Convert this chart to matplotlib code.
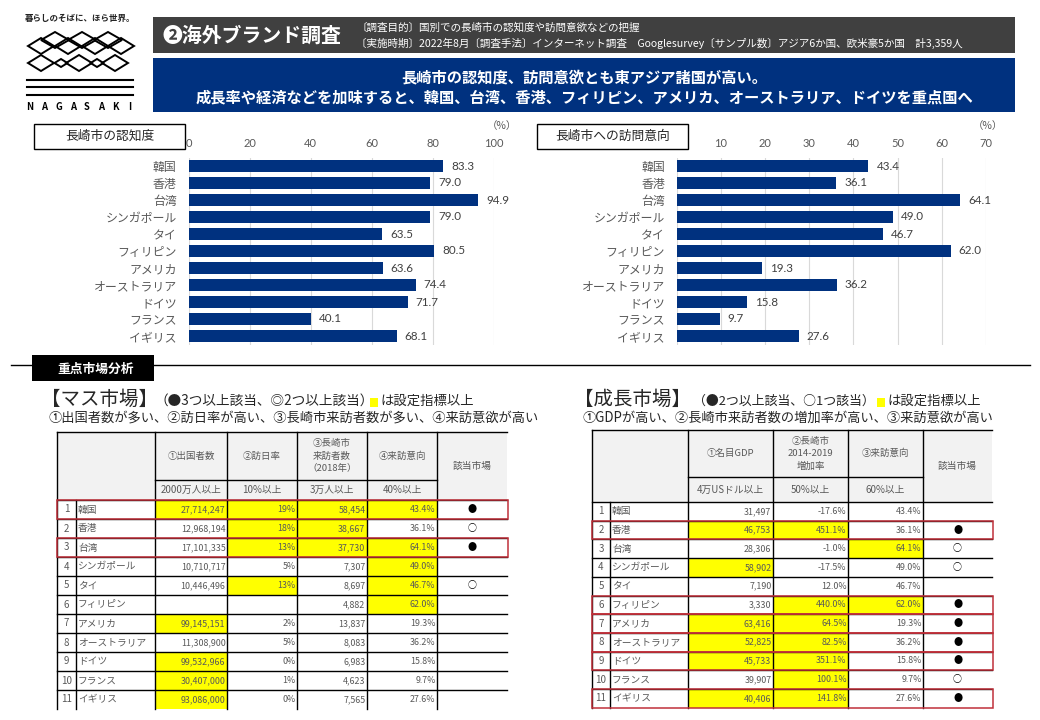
import matplotlib
matplotlib.use("Agg")
import matplotlib.pyplot as plt
from matplotlib.patches import Rectangle, Polygon

plt.rcParams['font.family'] = ['Noto Sans CJK JP', 'DejaVu Sans']

# bar chart data
countries = ["韓国", "香港", "台湾", "シンガポール", "タイ", "フィリピン", "アメリカ", "オーストラリア", "ドイツ", "フランス", "イギリス"]
awareness = [83.3, 79.0, 94.9, 79.0, 63.5, 80.5, 63.6, 74.4, 71.7, 40.1, 68.1]
visit_intent = [43.4, 36.1, 64.1, 49.0, 46.7, 62.0, 19.3, 36.2, 15.8, 9.7, 27.6]
awareness_ticks = [0, 20, 40, 60, 80, 100]
intent_ticks = [0, 10, 20, 30, 40, 50, 60, 70]

# mass market table
departures = [27714247, 12968194, 17101335, 10710717, 10446496, None, 99145151, 11308900, 99532966, 30407000, 93086000]
japan_rate = [19, 18, 13, 5, 13, None, 2, 5, 0, 1, 0]
nagasaki_visitors = [58454, 38667, 37730, 7307, 8697, 4882, 13837, 8083, 6983, 4623, 7565]
mass_marks = ["●", "○", "●", "", "○", "", "", "", "", "", ""]
mass_headers = ["①出国者数", "②訪日率", "③長崎市\n来訪者数\n（2018年）", "④来訪意向"]
mass_subheaders = ["2000万人以上", "10%以上", "3万人以上", "40%以上"]
mass_limits = [20000000, 10, 30000, 40]
mass_boxed = [0, 2]

# growth market table
gdp = [31497, 46753, 28306, 58902, 7190, 3330, 63416, 52825, 45733, 39907, 40406]
growth = [-17.6, 451.1, -1.0, -17.5, 12.0, 440.0, 64.5, 82.5, 351.1, 100.1, 141.8]
growth_marks = ["", "●", "○", "○", "", "●", "●", "●", "●", "○", "●"]
growth_headers = ["①名目GDP", "②長崎市\n2014-2019\n増加率", "③来訪意向"]
growth_subheaders = ["4万USドル以上", "50%以上", "60%以上"]
growth_limits = [40000, 50, 60]
growth_boxed = [1, 5, 6, 7, 8, 10]

NAVY = "#00317f"
GREY_TEXT = "#595959"
W, H = 1040, 720


def barChart(fig, left, right, xmax, values, ticks):
    ax = fig.add_axes([left / W, 1 - 344.5 / H, (right - left) / W, 187 / H])
    pos = list(range(len(countries)))
    ax.barh(pos, values, height=0.7, color=NAVY, zorder=3)
    ax.set_xlim(0, xmax)
    ax.set_ylim(len(countries) - 0.5, -0.5)
    ax.set_yticks(pos, countries, fontsize=8.6, color=GREY_TEXT)
    ax.set_xticks(ticks, [str(t) for t in ticks], fontsize=8, color=GREY_TEXT, family=['Lato'])
    ax.xaxis.tick_top()
    ax.tick_params(axis='both', length=0)
    ax.tick_params(axis='y', pad=8.5)
    ax.tick_params(axis='x', pad=6)
    ax.grid(axis='x', color="#d9d9d9", lw=0.8, zorder=0)
    for side in ax.spines:
        ax.spines[side].set_visible(False)
    for p, v in zip(pos, values):
        ax.annotate(f"{v:.1f}", (v, p), xytext=(5.8, 0), textcoords='offset points', va='center',
                    fontsize=8.4, color="#404040", family=['Lato'])


def diamond(ov, cx, cy, hw, hh):
    ov.add_patch(Polygon([(cx - hw, cy), (cx, cy - hh), (cx + hw, cy), (cx, cy + hh)], closed=True, fill=False, ec='black', lw=1.4))


def drawLogo(ov):
    ov.text(80.5, 18, "暮らしのそばに、ほら世界。", ha='center', va='center', fontsize=6.1, weight='bold', color="#222222")
    for cx in [55, 82, 108]:
        diamond(ov, cx, 40, 14, 8)
    for cx in [41, 68, 95, 121]:
        diamond(ov, cx, 46, 13, 8)
    for cx, hw, hh in [(41, 13, 8), (61, 6.5, 4), (79, 13, 8), (97, 6.5, 4), (115, 13, 8)]:
        diamond(ov, cx, 63, hw, hh)
    for y in [80, 87, 95]:
        ov.plot([27, 133], [y, y], color='black', lw=1.5)
    for i, c in enumerate("NAGASAKI"):
        ov.text(30 + i * 14.2, 107, c, ha='center', va='center', fontsize=6.8, weight='bold', color='black')


def drawHeader(ov):
    ov.add_patch(Rectangle((153, 17), 862, 36, fc="#404040", ec='none'))
    ov.add_patch(Rectangle((153, 58), 862, 54, fc=NAVY, ec='none'))
    ov.text(162, 35, "❷海外ブランド調査", va='center', fontsize=14.3, weight='bold', color='white')
    ov.text(356, 27, "〔調査目的〕国別での長崎市の認知度や訪問意欲などの把握", va='center', fontsize=7.6, color='white')
    ov.text(356, 43, "〔実施時期〕2022年8月〔調査手法〕インターネット調査　Googlesurvey〔サンプル数〕アジア6か国、欧米豪5か国　計3,359人", va='center', fontsize=7.6, color='white')
    ov.text(584, 77, "長崎市の認知度、訪問意欲とも東アジア諸国が高い。", ha='center', va='center', fontsize=11, weight='bold', color='white')
    ov.text(584, 97, "成長率や経済などを加味すると、韓国、台湾、香港、フィリピン、アメリカ、オーストラリア、ドイツを重点国へ", ha='center', va='center', fontsize=11, weight='bold', color='white')


def drawChartLabels(ov):
    for x0, label in [(34, "長崎市の認知度"), (537, "長崎市への訪問意向")]:
        ov.add_patch(Rectangle((x0, 124), 151, 25, fc='white', ec='black', lw=1))
        ov.text(x0 + 75.5, 136.5, label, ha='center', va='center', fontsize=9.2, color="#262626")
    ov.text(502, 126, "（%）", ha='center', va='center', fontsize=7.5, color=GREY_TEXT)
    ov.text(988, 126, "（%）", ha='center', va='center', fontsize=7.5, color=GREY_TEXT)


def drawSections(ov):
    ov.plot([11, 1030], [365, 365], color='black', lw=1)
    ov.add_patch(Rectangle((32, 355), 122, 26, fc='black', ec='none'))
    ov.text(96, 369, "重点市場分析", ha='center', va='center', fontsize=9.2, weight='bold', color='white')

    ov.text(41, 399, "【マス市場】", va='center', fontsize=14, color="#262626")
    ov.text(155, 401, "（●3つ以上該当、◎2つ以上該当）", va='center', fontsize=9.8, color="#262626")
    ov.add_patch(Rectangle((370, 398), 8, 9, fc="#ffff00", ec='none'))
    ov.text(380, 401, "は設定指標以上", va='center', fontsize=9.6, color="#262626")
    ov.text(49, 418, "①出国者数が多い、②訪日率が高い、③長崎市来訪者数が多い、④来訪意欲が高い", va='center', fontsize=9.55, color="#262626")

    ov.text(574, 399, "【成長市場】", va='center', fontsize=14, color="#262626")
    ov.text(693, 401, "（●2つ以上該当、○1つ該当）", va='center', fontsize=9.3, color="#262626")
    ov.add_patch(Rectangle((877, 398), 8, 9, fc="#ffff00", ec='none'))
    ov.text(887, 401, "は設定指標以上", va='center', fontsize=9.6, color="#262626")
    ov.text(583, 418, "①GDPが高い、②長崎市来訪者数の増加率が高い、③来訪意欲が高い", va='center', fontsize=9.55, color="#262626")


def drawTable(ov, xs, x_idx, y_top, y_sub, y_row, row_h, headers, subs, cols, limits, marks, boxed):
    # xs = column edges, first is the table left edge and last the right edge
    n = len(countries)
    y_end = y_row + row_h * n
    ov.add_patch(Rectangle((xs[0], y_top), xs[-1] - xs[0], y_row - y_top, fc="#f2f2f2", ec='none'))
    for j, h in enumerate(headers):
        cx = (xs[j + 1] + xs[j + 2]) / 2
        ov.text(cx, (y_top + y_sub) / 2, h, ha='center', va='center', fontsize=6.8, color=GREY_TEXT, linespacing=1.45)
        ov.text(cx, (y_sub + y_row) / 2, subs[j], ha='center', va='center', fontsize=7, color=GREY_TEXT)
    ov.text((xs[-2] + xs[-1]) / 2, (y_top + y_row) / 2, "該当市場", ha='center', va='center', fontsize=7, color=GREY_TEXT)

    for i, name in enumerate(countries):
        y0 = y_row + i * row_h
        ym = y0 + row_h / 2
        ov.text((xs[0] + x_idx) / 2, ym, str(i + 1), ha='center', va='center', fontsize=7, color=GREY_TEXT)
        ov.text(x_idx + 2, ym, name, va='center', fontsize=7, color=GREY_TEXT)
        for j, (col, fmt) in enumerate(cols):
            v = col[i]
            if v is None:
                continue
            if v >= limits[j]:
                ov.add_patch(Rectangle((xs[j + 1], y0), xs[j + 2] - xs[j + 1], row_h, fc="#ffff00", ec='none'))
            ov.text(xs[j + 2] - 1.5, ym, fmt.format(v), ha='right', va='center', fontsize=6.4, color=GREY_TEXT)
        if marks[i]:
            ov.text((xs[-2] + xs[-1]) / 2, ym, marks[i], ha='center', va='center', fontsize=6.5, color='black')

    # grid lines
    ov.plot([xs[0], xs[-1]], [y_top, y_top], color='black', lw=1)
    ov.plot([xs[1], xs[-2]], [y_sub, y_sub], color='black', lw=1)
    for i in range(n):
        y = y_row + i * row_h
        ov.plot([xs[0], xs[-1]], [y, y], color='black', lw=1)
    for x in xs[:-1]:
        ov.plot([x, x], [y_top, y_end], color='black', lw=1)
    ov.plot([x_idx, x_idx], [y_row, y_end], color='black', lw=1)

    for i in boxed:
        ov.add_patch(Rectangle((xs[0], y_row + i * row_h), xs[-1] - xs[0] + 1, row_h, fill=False, ec="#c0303a", lw=1.1, zorder=5))


def main():
    fig = plt.figure(figsize=(W / 100, H / 100), dpi=100)
    barChart(fig, 188.5, 494, 100, awareness, awareness_ticks)
    barChart(fig, 676.7, 986, 70, visit_intent, intent_ticks)

    # overlay in pixel coordinates for the sheet around the charts
    ov = fig.add_axes([0, 0, 1, 1], zorder=5)
    ov.set_xlim(0, W)
    ov.set_ylim(H, 0)
    ov.axis('off')
    ov.patch.set_alpha(0)

    drawLogo(ov)
    drawHeader(ov)
    drawChartLabels(ov)
    drawSections(ov)

    drawTable(ov, [57, 155, 227, 297, 367, 437, 507], 76, 432, 480, 500, 19,
              mass_headers, mass_subheaders,
              [(departures, "{:,}"), (japan_rate, "{}%"), (nagasaki_visitors, "{:,}"), (visit_intent, "{:.1f}%")],
              mass_limits, mass_marks, mass_boxed)
    drawTable(ov, [592, 688, 773, 848, 923, 992], 610, 430, 477, 502, 18.7,
              growth_headers, growth_subheaders,
              [(gdp, "{:,}"), (growth, "{:.1f}%"), (visit_intent, "{:.1f}%")],
              growth_limits, growth_marks, growth_boxed)

    fig.savefig("out.png", dpi=100)


if __name__ == "__main__":
    main()
